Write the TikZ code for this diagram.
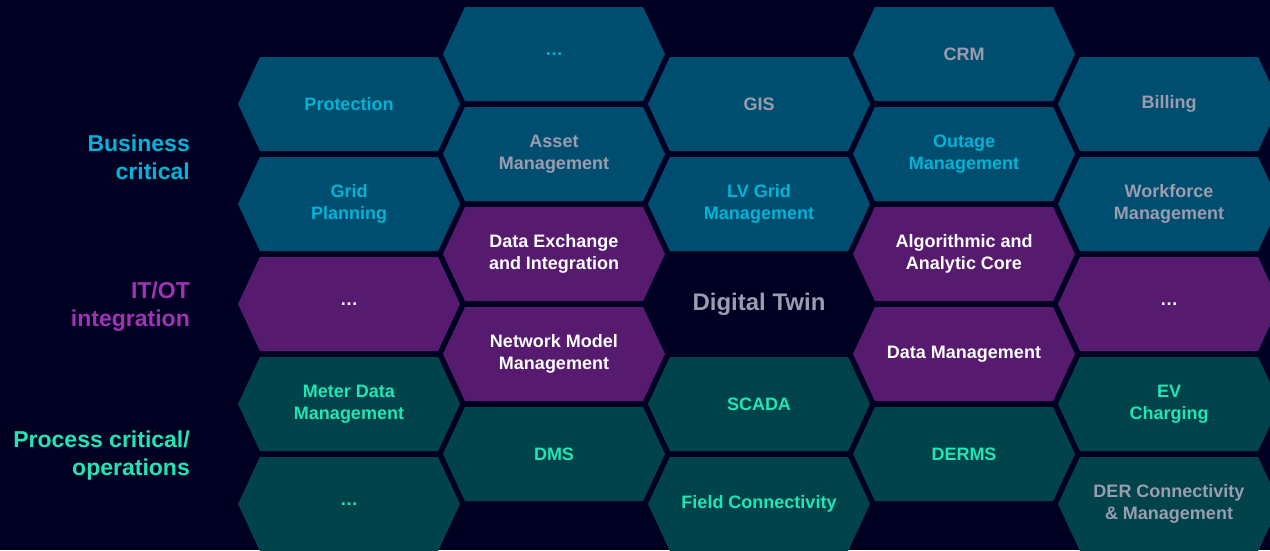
\documentclass[tikz,border=0pt]{standalone}
\usepackage{fontspec}
\setmainfont{Liberation Sans}
\usetikzlibrary{shapes.symbols}
\definecolor{bgnavy}{HTML}{000023}
\definecolor{bizblue}{HTML}{004E6F}
\definecolor{itpurple}{HTML}{561A6E}
\definecolor{procteal}{HTML}{00434A}
\definecolor{txtcyan}{HTML}{00B4D6}
\definecolor{txtgray}{HTML}{9C9CB0}
\definecolor{txtgreen}{HTML}{1EE6B4}
\definecolor{txtpurple}{HTML}{A232B4}
\tikzset{
  hex/.style={signal, signal to=east and west, signal pointer angle=130,
    minimum width=222pt, minimum height=94pt, inner sep=0pt, outer sep=0pt,
    align=center, font=\bfseries\fontsize{18}{22}\selectfont},
  biz/.style={hex, fill=bizblue},
  itot/.style={hex, fill=itpurple},
  proc/.style={hex, fill=procteal},
  sidelabel/.style={anchor=east, align=right, inner sep=0pt, font=\bfseries\fontsize{23}{28}\selectfont}
}
\begin{document}
\begin{tikzpicture}[x=1pt,y=-1pt]
\fill[bgnavy] (0,0) rectangle (1270,550);
\clip (0,0) rectangle (1270,550);
% left labels
\node[sidelabel, text=txtcyan] (business) at (190,157) {Business\\critical};
\node[sidelabel, text=txtpurple] (itot) at (190,307) {IT/OT\\integration};
\node[sidelabel, text=txtgreen] (process) at (190,456) {Process critical/\\operations};
% column 1
\node[biz, text=txtcyan] (protection) at (349,104) {Protection};
\node[biz, text=txtcyan] (gridplan) at (349,204) {Grid\\Planning};
\node[itot, text=white] (itdots1) at (349,304) {…};
\node[proc, text=txtgreen] (mdm) at (349,404) {Meter Data\\Management};
\node[proc, text=txtgreen] (procdots1) at (349,504) {…};
% column 2
\node[biz, text=txtcyan] (bizdots) at (554,54) {…};
\node[biz, text=txtgray] (asset) at (554,154) {Asset\\Management};
\node[itot, text=white] (exchange) at (554,254) {Data Exchange\\and Integration};
\node[itot, text=white] (netmodel) at (554,354) {Network Model\\Management};
\node[proc, text=txtgreen] (dms) at (554,454) {DMS};
% column 3
\node[biz, text=txtgray] (gis) at (759,104) {GIS};
\node[biz, text=txtcyan] (lvgrid) at (759,204) {LV Grid\\Management};
\node[hex, text=txtgray, font=\bfseries\fontsize{24}{28}\selectfont] (twin) at (759,304) {Digital Twin};
\node[proc, text=txtgreen] (scada) at (759,404) {SCADA};
\node[proc, text=txtgreen] (fieldconn) at (759,504) {Field Connectivity};
% column 4
\node[biz, text=txtgray] (crm) at (964,54) {CRM};
\node[biz, text=txtcyan] (outage) at (964,154) {Outage\\Management};
\node[itot, text=white] (algo) at (964,254) {Algorithmic and\\Analytic Core};
\node[itot, text=white] (datamgmt) at (964,354) {Data Management};
\node[proc, text=txtgreen] (derms) at (964,454) {DERMS};
% column 5
\node[biz, text=txtgray] (billing) at (1169,104) {Billing};
\node[biz, text=txtgray] (workforce) at (1169,204) {Workforce\\Management};
\node[itot, text=white] (itdots2) at (1169,304) {…};
\node[proc, text=txtgreen] (evcharging) at (1169,404) {EV\\Charging};
\node[proc, text=txtgray] (derconn) at (1169,504) {DER Connectivity\\\& Management};
\end{tikzpicture}
\end{document}
